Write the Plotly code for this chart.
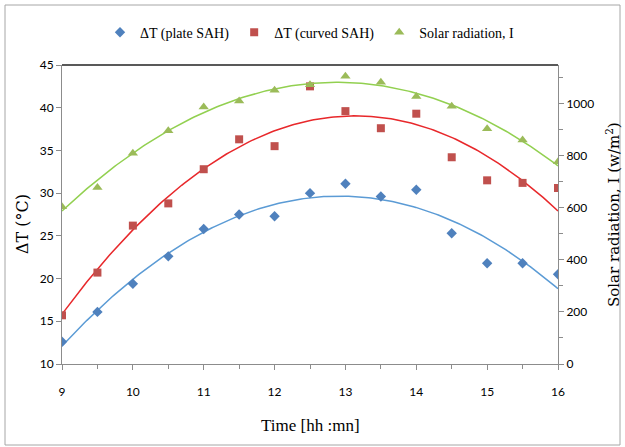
import numpy as np
import plotly.graph_objects as go

time_h = [9, 9.5, 10, 10.5, 11, 11.5, 12, 12.5, 13, 13.5, 14, 14.5, 15, 15.5, 16]
dT_plate = [12.6, 16.1, 19.4, 22.6, 25.8, 27.5, 27.3, 30.0, 31.1, 29.6, 30.4, 25.3, 21.8, 21.8, 20.5]
dT_curved = [15.7, 20.7, 26.2, 28.8, 32.8, 36.3, 35.5, 42.5, 39.6, 37.6, 39.3, 34.2, 31.5, 31.2, 30.6]
solar_I = [604, 678, 809, 896, 987, 1010, 1051, 1072, 1105, 1082, 1027, 990, 903, 860, 777]

x_ticks = [9, 10, 11, 12, 13, 14, 15, 16]
y1_ticks = [10, 15, 20, 25, 30, 35, 40, 45]
y2_ticks = [0, 200, 400, 600, 800, 1000]

c_blue, c_red, c_green = "#4F81BD", "#C0504D", "#9BBB59"
l_blue, l_red, l_green = "#5B9BD5", "#E8282B", "#92D050"

xs = np.linspace(9, 16, 200)
def trend(y):
    p = np.polyfit(time_h, y, 2)
    return np.polyval(p, xs)

fig = go.Figure()
# trendlines
fig.add_trace(go.Scatter(x=xs, y=trend(dT_plate), mode="lines", line=dict(color=l_blue, width=1.5), showlegend=False, hoverinfo="skip"))
fig.add_trace(go.Scatter(x=xs, y=trend(dT_curved), mode="lines", line=dict(color=l_red, width=1.5), showlegend=False, hoverinfo="skip"))
fig.add_trace(go.Scatter(x=xs, y=trend(solar_I), mode="lines", line=dict(color=l_green, width=1.5), showlegend=False, hoverinfo="skip", yaxis="y2"))
# points
fig.add_trace(go.Scatter(x=time_h, y=dT_plate, mode="markers", name="ΔT (plate SAH)",
                         marker=dict(symbol="diamond", size=8, color=c_blue)))
fig.add_trace(go.Scatter(x=time_h, y=dT_curved, mode="markers", name="ΔT (curved SAH)",
                         marker=dict(symbol="square", size=8, color=c_red)))
fig.add_trace(go.Scatter(x=time_h, y=solar_I, mode="markers", name="Solar radiation, I",
                         marker=dict(symbol="triangle-up", size=9, color=c_green), yaxis="y2"))

tick_font = dict(family="Lato, Liberation Sans, sans-serif", size=12, color="#000")
serif = "Liberation Serif, Times New Roman, serif"
slab = "DejaVu Serif, serif"

fig.update_layout(
    width=625, height=447,
    margin=dict(l=62, r=67, t=65, b=83, autoexpand=False),
    paper_bgcolor="white", plot_bgcolor="white",
    showlegend=True,
    legend=dict(orientation="h", x=0.5, xanchor="center", y=1.108, yanchor="middle",
                font=dict(family=serif, size=14, color="#000"), itemwidth=30,
                bgcolor="rgba(0,0,0,0)", tracegroupgap=0),
    xaxis=dict(range=[9, 16], tickvals=x_ticks, showgrid=False, zeroline=False,
               showline=True, linecolor="#8c8c8c", linewidth=1,
               ticks="outside", ticklen=5, tickcolor="#8c8c8c",
               minor=dict(dtick=0.5, ticks="outside", ticklen=4, tickcolor="#8c8c8c"),
               tickfont=tick_font, ticklabelstandoff=12),
    yaxis=dict(range=[10, 45], tickvals=y1_ticks, showgrid=False, zeroline=False,
               showline=True, linecolor="#8c8c8c", linewidth=1,
               ticks="outside", ticklen=5, tickcolor="#8c8c8c", tickfont=tick_font),
    yaxis2=dict(range=[0, 1148], tickvals=y2_ticks, overlaying="y", side="right",
                showgrid=False, zeroline=False,
                showline=True, linecolor="#8c8c8c", linewidth=1,
                ticks="outside", ticklen=5, tickcolor="#8c8c8c",
                minor=dict(dtick=100, ticks="outside", ticklen=4, tickcolor="#8c8c8c"),
                tickfont=tick_font),
    annotations=[
        dict(text="Time [hh :mn]", x=0.5, y=(364 - 425) / 299, xref="paper", yref="paper",
             showarrow=False, font=dict(family=serif, size=17, color="#000"), yanchor="middle"),
        dict(text="ΔT (°C)", x=(22 - 62) / 496, y=(364 - 224) / 299, xref="paper", yref="paper",
             textangle=-90, showarrow=False, font=dict(family=slab, size=16, color="#000"),
             xanchor="center", yanchor="middle"),
        dict(text="Solar radiation, I (w/m<sup>2</sup>)", x=(613 - 62) / 496, y=(364 - 215) / 299,
             xref="paper", yref="paper", textangle=-90, showarrow=False,
             font=dict(family=slab, size=15, color="#000"), xanchor="center", yanchor="middle"),
    ],
    shapes=[
        dict(type="line", xref="paper", yref="paper", x0=0, x1=1, y0=1, y1=1,
             line=dict(color="#222", width=1.5)),
        dict(type="rect", xref="paper", yref="paper",
             x0=(5 - 62) / 496, x1=(620 - 62) / 496, y0=(364 - 445) / 299, y1=(364 - 5) / 299,
             line=dict(color="#a6a6a6", width=1)),
    ],
)

fig.write_html("out.html", config={"displayModeBar": False},
               post_script="document.body.style.margin='0';")
